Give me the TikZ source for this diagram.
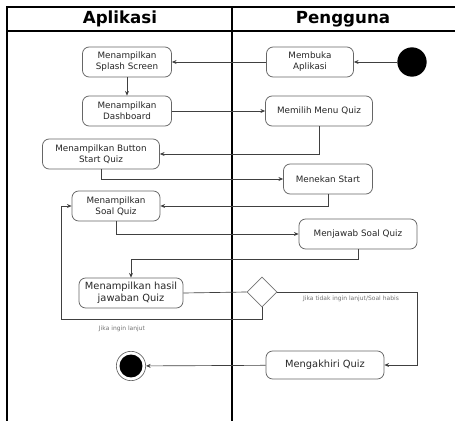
\documentclass[tikz,border=0pt]{standalone}
\usepackage{fontspec}
\setmainfont{DejaVu Sans}
\usetikzlibrary{arrows.meta, shapes.geometric}

\begin{document}
\begin{tikzpicture}[
    x=0.75pt,y=-0.75pt,
    >={Stealth[length=3.5pt,width=3pt]},
    font=\fontsize{6.6}{8.2}\selectfont,
    lane/.style={draw=black,line width=1.6pt},
    heading/.style={font=\bfseries\fontsize{12.5}{15}\selectfont},
    activity/.style={draw=black!60,rounded corners=5pt,line width=0.6pt,
        minimum height=22.5pt,align=center,inner sep=1pt,text=black!85},
    bigactivity/.style={activity,font=\fontsize{7.4}{9}\selectfont},
    decision/.style={diamond,draw=black!55,line width=0.6pt,
        minimum width=22.5pt,minimum height=22.5pt,inner sep=0pt},
    initial/.style={circle,fill=black,minimum size=22pt,inner sep=0pt},
    finalring/.style={circle,draw=black!60,fill=white,line width=0.5pt,
        minimum size=22pt,inner sep=0pt},
    flow/.style={draw=black!75,line width=0.5pt},
    guard/.style={font=\fontsize{4.5}{5.5}\selectfont,text=black!55}
]
\useasboundingbox (0,0) rectangle (455,421);

% Swimlanes.
\draw[lane] (7,421) -- (7,7) -- (455,7);
\draw[lane] (7,31) -- (455,31);
\draw[lane] (232,7) -- (232,421);
\node[heading] at (120,19) {Aplikasi};
\node[heading] at (343,19) {Pengguna};

% Activities of the application.
\node[activity,minimum width=66.75pt] (splash) at (127,62) {Menampilkan\\Splash Screen};
\node[activity,minimum width=66.75pt] (dashboard) at (127,111) {Menampilkan\\Dashboard};
\node[activity,minimum width=87.75pt] (button) at (101,154) {Menampilkan Button\\Start Quiz};
\node[activity,minimum width=66pt] (soal) at (116,206) {Menampilkan\\Soal Quiz};
\node[bigactivity,minimum width=78pt] (hasil) at (131,293) {Menampilkan hasil\\jawaban Quiz};

% Activities of the user.
\node[initial] (start) at (412,62) {};
\node[activity,minimum width=65.25pt] (membuka) at (310,62) {Membuka\\Aplikasi};
\node[activity,minimum width=80.25pt] (memilih) at (319,111) {Memilih Menu Quiz};
\node[activity,minimum width=66.75pt] (menekan) at (328,179) {Menekan Start};
\node[activity,minimum width=88.5pt] (menjawab) at (358,234) {Menjawab Soal Quiz};
\node[bigactivity,minimum width=88.5pt,minimum height=21pt] (akhir) at (325,365) {Mengakhiri Quiz};

% Decision and final state.
\node[decision] (pilihan) at (262,292) {};
\node[finalring] (stop) at (131,366) {};
\fill (stop) circle[radius=8.6pt];

% Control flow.
\draw[flow,->] (start) -- (membuka);
\draw[flow,->] (membuka) -- (splash);
\draw[flow,->] (splash) -- (dashboard);
\draw[flow,->] (dashboard) -- (memilih);
\draw[flow,->] (memilih.south) |- (button.east);
\draw[flow,->] (button.south) |- (menekan.west);
\draw[flow,->] (menekan.south) |- (soal.east);
\draw[flow,->] (soal.south) |- (menjawab.west);
\draw[flow,->] (menjawab.south) -- ++(0,10) -| (hasil.north);
\draw[flow] (hasil.east) -- (pilihan.west);

% Branches of the decision.
\coordinate (habis) at (417,292);
\coordinate (lanjut) at (61,319);
\draw[flow,->] (pilihan.east) -- (habis) |- (akhir.east);
\draw[flow,->] (pilihan.south) |- (lanjut) |- (soal.west);
\draw[flow,->] (akhir) -- (stop);
\node[guard] at (351,299) {Jika tidak ingin lanjut/Soal habis};
\node[guard] at (122,329) {Jika ingin lanjut};
\end{tikzpicture}
\end{document}
